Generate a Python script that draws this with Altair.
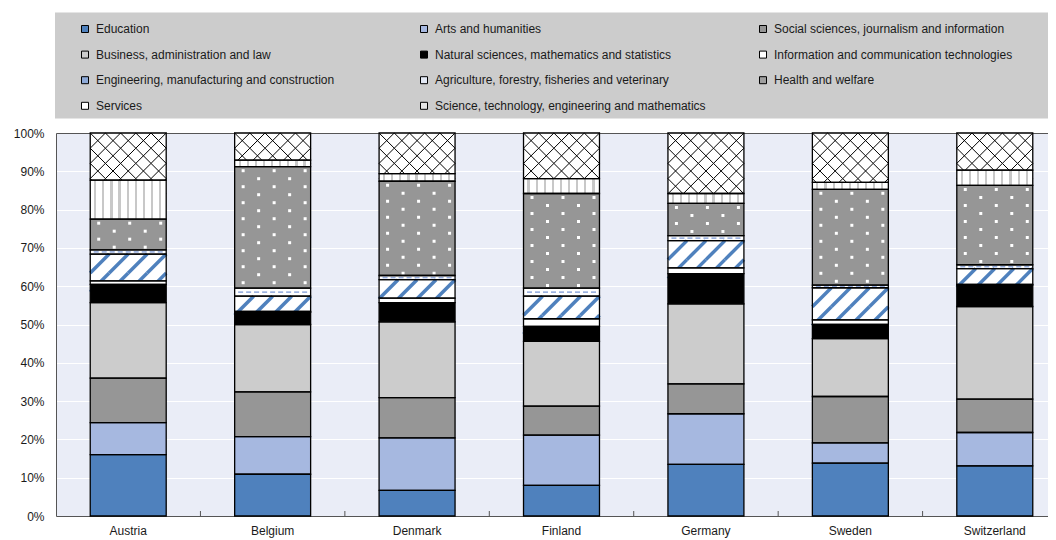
import altair as alt
import pandas as pd

countries = ["Austria", "Belgium", "Denmark", "Finland", "Germany", "Sweden", "Switzerland"]
categories = [
    "Education",
    "Arts and humanities",
    "Social sciences, journalism and information",
    "Business, administration and law",
    "Natural sciences, mathematics and statistics",
    "Information and communication technologies",
    "Engineering, manufacturing and construction",
    "Agriculture, forestry, fisheries and veterinary",
    "Health and welfare",
    "Services",
    "Science, technology, engineering and mathematics",
]
education = [16.0, 10.9, 6.7, 8.0, 13.5, 13.8, 13.1]
arts = [8.4, 9.8, 13.7, 13.1, 13.2, 5.3, 8.7]
social = [11.6, 11.7, 10.5, 7.6, 7.8, 12.1, 8.7]
business = [19.7, 17.6, 19.8, 16.9, 20.9, 15.1, 24.2]
natural = [4.8, 3.2, 5.0, 3.9, 7.9, 3.7, 5.6]
ict = [0.9, 0.2, 1.2, 2.0, 1.5, 1.2, 0.2]
engineering = [7.0, 4.0, 4.8, 5.9, 7.1, 8.4, 4.1]
agriculture = [1.1, 2.1, 1.1, 2.1, 1.3, 0.7, 1.0]
health = [8.0, 31.7, 24.6, 24.7, 8.4, 25.0, 20.7]
services = [10.2, 1.7, 2.0, 3.9, 2.6, 1.8, 4.0]
stem = [12.3, 7.1, 10.6, 11.9, 15.8, 12.9, 9.7]
series = [education, arts, social, business, natural, ict, engineering,
          agriculture, health, services, stem]

rows = []
for ci, c in enumerate(countries):
    base = 0.0
    for k, cat in enumerate(categories):
        v = series[k][ci]
        rows.append({"country": c, "category": cat, "order": k, "value": v,
                     "y0": round(base, 3), "y1": round(base + v, 3)})
        base += v
df = pd.DataFrame(rows)

FONT = "Liberation Sans"
TXT = "#1a1a1a"
PLOT_H = 383
PX = PLOT_H / 100.0  # pixels per percentage point
HALF_BAND = 37.98    # half of the bar width in pixels

legend_colors = ["#4f81bd", "#a6b8e0", "#969696", "#cccccc", "#000000", "#ffffff",
                 "#8eaad8", "#e3e9f5", "#a0a0a0", "#ffffff", "#e6e6e6"]
# the legend lays entries out column by column (4 rows x 3 columns);
# order the domain so that it reads row by row as in the reference
legend_order = [0, 3, 6, 9, 1, 4, 7, 10, 2, 5, 8]
legend_domain = [categories[i] for i in legend_order]
legend_range = [legend_colors[i] for i in legend_order]

x_scale = alt.Scale(domain=countries, range=[0, 1011], paddingInner=0.474, paddingOuter=0.237)
y_scale = alt.Scale(domain=[0, 100], nice=False)
x_axis = alt.Axis(labelAngle=0, ticks=False, domainColor="#555555", labelPadding=9,
                  labelFont=FONT, labelFontSize=12, labelColor=TXT, grid=False, title=None)
y_axis = alt.Axis(values=list(range(0, 101, 10)), labelExpr="datum.value + '%'", grid=True,
                  gridColor={"condition": {"test": "datum.value == 100", "value": "#555555"},
                             "value": "#ffffff"},
                  ticks=False, domainColor="#555555", labelPadding=12, labelFont=FONT,
                  labelFontSize=12, labelColor=TXT, title=None)

x_enc = alt.X("country:N", scale=x_scale, axis=x_axis, title=None)
y_enc = alt.Y("y0:Q", scale=y_scale, axis=y_axis, title=None)
y2_enc = alt.Y2("y1:Q")


def seg(order):
    return alt.Chart(df).transform_filter(f"datum.order == {order}")


def fill_layer(order, color):
    return seg(order).mark_bar(fill=color, strokeWidth=0).encode(x=x_enc, y=y_enc, y2=y2_enc)


def texture(order, step_px, offsets_expr, mark):
    sp = step_px / PX
    return (seg(order)
            .transform_calculate(k=f"sequence(0, ceil((datum.y1 - datum.y0) / {sp}))")
            .transform_flatten(["k"])
            .transform_calculate(yy=f"datum.y1 - (datum.k + 0.5) * {sp}", c=offsets_expr)
            .transform_flatten(["c"])
            .transform_calculate(cx=f"datum.c + {HALF_BAND}")
            .mark_point(**mark)
            .encode(x=x_enc, xOffset=alt.XOffset("cx:Q", scale=None),
                    y=alt.Y("yy:Q", scale=y_scale, axis=y_axis, title=None)))


# legend background box
legend_bg = alt.Chart(alt.Data(values=[{"a": 1}])).mark_rect(color="#cccccc").encode(
    x=alt.value(-1), x2=alt.value(1000), y=alt.value(-120.5), y2=alt.value(-14.5))

layers = [legend_bg]

# STEM: white with black crosshatch
layers.append(fill_layer(10, "#ffffff"))
layers.append(texture(10, 15.2, "[-30.4, -15.2, 0, 15.2, 30.4]",
                      dict(shape="M-1,-1L1,1M-1,1L1,-1", size=231, filled=False,
                           stroke="#000000", strokeWidth=1, opacity=1)))

# Services: white with grey vertical stripes
stops = [alt.GradientStop(offset=0, color="#ffffff")]
for i in range(9):
    a = (5 + 8.12 * i - 1.1) / 76
    b = (5 + 8.12 * i + 1.1) / 76
    stops += [alt.GradientStop(offset=a, color="#ffffff"),
              alt.GradientStop(offset=a, color="#c8c8c8"),
              alt.GradientStop(offset=b, color="#c8c8c8"),
              alt.GradientStop(offset=b, color="#ffffff")]
stops.append(alt.GradientStop(offset=1, color="#ffffff"))
grad = alt.Gradient(gradient="linear", stops=stops, x1=0, x2=1, y1=0, y2=0)
layers.append(seg(9).mark_bar(fill=grad, strokeWidth=0).encode(x=x_enc, y=y_enc, y2=y2_enc))

# Health: grey with white dots
layers.append(fill_layer(8, "#969696"))
layers.append(texture(8, 8.0, "datum.k % 2 == 0 ? [-29.5, 1.5, 32.5] : [-14, 17]",
                      dict(shape="square", size=9, filled=True, color="#ffffff",
                           strokeWidth=0, opacity=1)))

# Agriculture: white with light-blue dashes
layers.append(fill_layer(7, "#ffffff"))
layers.append(seg(7)
              .transform_calculate(yy="(datum.y0 + datum.y1) / 2",
                                   c="[-32, -24, -16, -8, 0, 8, 16, 24, 32]")
              .transform_flatten(["c"])
              .transform_calculate(cx=f"datum.c + {HALF_BAND}")
              .mark_point(shape="M-1,0L1,0", size=25, filled=False, stroke="#95acdc",
                          strokeWidth=1.6, opacity=1)
              .encode(x=x_enc, xOffset=alt.XOffset("cx:Q", scale=None),
                      y=alt.Y("yy:Q", scale=y_scale, axis=y_axis, title=None)))

# Engineering: white with blue diagonal stripes
layers.append(fill_layer(6, "#ffffff"))
layers.append(texture(6, 19.0, "[-28.5, -9.5, 9.5, 28.5]",
                      dict(shape="M-1,1L1,-1", size=361, filled=False, stroke="#4f81bd",
                           strokeWidth=3.5, opacity=1)))

# Solid segments (carry the legend)
layers.append(
    alt.Chart(df).transform_filter("datum.order <= 5").mark_bar(strokeWidth=0).encode(
        x=x_enc, y=y_enc, y2=y2_enc,
        color=alt.Color("category:N",
                        scale=alt.Scale(domain=legend_domain, range=legend_range),
                        legend=alt.Legend(orient="none", legendX=23, legendY=-110,
                                          columns=3, gridAlign="all", columnPadding=51,
                                          rowPadding=13.6, symbolType="square", symbolSize=49,
                                          symbolStrokeColor="#000000", symbolStrokeWidth=1,
                                          symbolOpacity=1, labelFont=FONT, labelFontSize=12,
                                          labelColor=TXT, labelOffset=5, labelLimit=400,
                                          title=None, padding=0))))

# Outlines
layers.append(alt.Chart(df).mark_bar(fillOpacity=0, stroke="#000000", strokeWidth=1.3)
              .encode(x=x_enc, y=y_enc, y2=y2_enc))

# category separator ticks on the x axis
layers.append(alt.Chart(df).transform_filter("datum.order == 0 && datum.country != 'Austria'")
              .mark_rule(xOffset=-72.2, color="#555555", strokeWidth=1)
              .encode(x=x_enc, y=alt.value(PLOT_H), y2=alt.value(PLOT_H - 5)))

chart = (alt.layer(*layers)
         .properties(width=992, height=PLOT_H,
                     padding={"left": 48, "top": 125, "right": 0, "bottom": 22},
                     autosize=alt.AutoSizeParams(type="none"))
         .configure(font=FONT, background="#ffffff")
         .configure_view(stroke=None, fill="#eaedf7"))

chart.save("out.html", embed_options={"renderer": "svg", "actions": False})
